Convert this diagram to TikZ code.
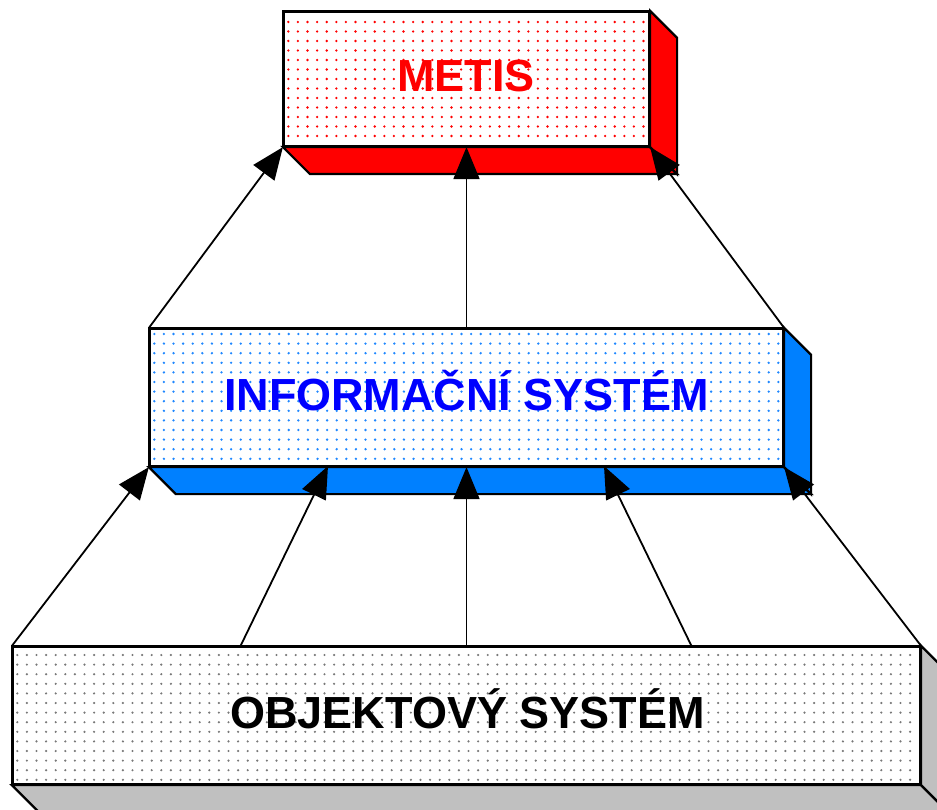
\documentclass[tikz,border=0pt]{standalone}
\usepackage{fontspec}
\setmainfont{Liberation Sans}
\usetikzlibrary{arrows.meta,calc}

\definecolor{metisred}{RGB}{255,0,0}
\definecolor{isblue}{RGB}{0,128,255}
\definecolor{isdot}{RGB}{30,135,255}
\definecolor{istext}{RGB}{0,0,255}
\definecolor{osgray}{RGB}{192,192,192}
\definecolor{osdot}{RGB}{120,120,120}

\tikzset{
  face/.style={rectangle, draw=black, line width=2.2pt, fill=white, inner sep=0pt},
  slab/.style={draw=black, line width=2.2pt, line join=miter},
  link/.style={line width=1.8pt, -{Triangle[length=32pt,width=26pt]}},
  caption/.style={font=\fontsize{45}{54}\selectfont\bfseries, anchor=base, inner sep=0pt},
}

% bottom and right faces of an extruded block, depth (27,27)
\newcommand\blockdepth[2]{%
  \filldraw[slab, fill=#2] (#1.south west) -- (#1.south east)
    -- ($(#1.south east)+(27,27)$) -- ($(#1.south west)+(27,27)$) -- cycle;
  \filldraw[slab, fill=#2] (#1.north east) -- ($(#1.north east)+(27,27)$)
    -- ($(#1.south east)+(27,27)$) -- (#1.south east) -- cycle;
}

\begin{document}
\begin{tikzpicture}[x=1pt, y=-1pt]
\useasboundingbox (0,0) rectangle (937,810);
\begin{scope}
\clip (0,0) rectangle (937,810);

% front faces
\node[face, minimum width=365pt, minimum height=134pt] (metis) at (466.5,79) {};
\node[face, minimum width=633pt, minimum height=137pt] (info) at (466.5,397.5) {};
\node[face, minimum width=907pt, minimum height=137pt] (obj) at (466.5,715.5) {};

% dotted fill of the faces
\foreach \x in {288.3,297.9,...,647}
  \foreach \y in {22,31.5,...,144}
    \fill[metisred] (\x,\y) circle (1.3pt);
\foreach \x in {154.3,163.9,...,781}
  \foreach \y in {334,343.6,...,464}
    \fill[isdot] (\x,\y) circle (1.3pt);
\foreach \x in {17.3,26.9,...,918}
  \foreach \y in {655,664.6,...,782}
    \fill[osdot] (\x,\y) circle (1.2pt);

% outlines again over the dots
\draw[line width=2.2pt] (metis.north west) rectangle (metis.south east);
\draw[line width=2.2pt] (info.north west) rectangle (info.south east);
\draw[line width=2.2pt] (obj.north west) rectangle (obj.south east);

% captions
\node[caption, text=metisred] (metistext) at (466,92) {METIS};
\node[caption, text=istext] (infotext) at (466.5,410) {INFORMAČNÍ SYSTÉM};
\node[caption, text=black] (objtext) at (467.5,728) {OBJEKTOVÝ SYSTÉM};

% depth of the blocks
\blockdepth{metis}{metisred}
\blockdepth{info}{isblue}
\blockdepth{obj}{osgray}

% foot points of the slanted links
\coordinate (o2) at (240,647);
\coordinate (o4) at (692,647);
\coordinate (i2) at (328,466);
\coordinate (i4) at (604,466);

% links from the information system to METIS
\draw[link] (info.north west) -- (metis.south west);
\draw[link] (info.north) -- (metis.south);
\draw[link] (info.north east) -- (metis.south east);

% links from the object system to the information system
\draw[link] (obj.north west) -- (info.south west);
\draw[link] (o2) -- (i2);
\draw[link] (obj.north) -- (info.south);
\draw[link] (o4) -- (i4);
\draw[link] (obj.north east) -- (info.south east);
\end{scope}
\end{tikzpicture}
\end{document}
